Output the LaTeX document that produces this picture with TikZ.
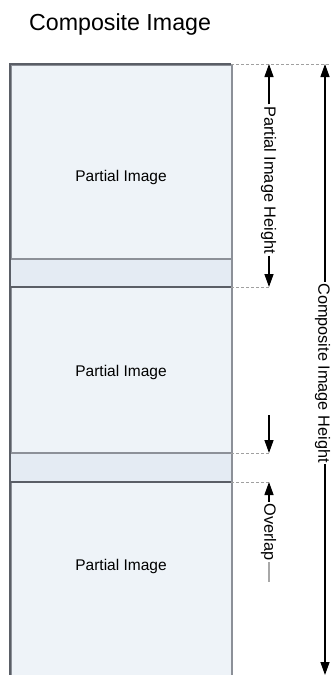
\documentclass[tikz,border=0pt]{standalone}
\usepackage{fontspec}
\setmainfont{Liberation Sans}
\usetikzlibrary{arrows.meta}
\definecolor{pfill}{HTML}{EEF3F8}
\definecolor{bandfill}{HTML}{E4EBF3}
\definecolor{edgedark}{HTML}{5A5E66}
\definecolor{edgelight}{HTML}{8C9098}
\definecolor{dimgray}{HTML}{A8A8A8}
\definecolor{dashgray}{HTML}{A0A0A0}
\begin{document}
\begin{tikzpicture}[x=1pt,y=-1pt,
  partbox/.style={draw=edgelight, fill=pfill, line width=2pt, minimum width=221pt,
    minimum height=223pt, inner sep=0pt, anchor=north west},
  partlabel/.style={font=\fontsize{15.5}{18}\selectfont, anchor=base, inner sep=0pt},
  dimlabel/.style={font=\fontsize{16.3}{19}\selectfont, rotate=-90, fill=white, inner sep=1.5pt},
  dimline/.style={draw=dimgray, line width=1.3pt},
  tip/.style={-{Triangle[length=13pt,width=9pt]}, color=black},
  extline/.style={draw=dashgray, line width=0.9pt, dash pattern=on 3pt off 2pt}]
\useasboundingbox (0,0) rectangle (331,675);

\node[font=\fontsize{23.2}{27}\selectfont, anchor=base west, inner sep=0pt] (title) at (29,30) {Composite Image};

\node[partbox] (p1) at (10,64) {};
\node[partbox] (p2) at (10,259) {};
\node[partbox] (p3) at (10,453) {};

\fill[bandfill] (10,259) rectangle (231,287);
\fill[bandfill] (10,453) rectangle (231,482);
\draw[edgelight, line width=2pt] (10,259) -- (231,259);
\draw[edgedark, line width=2pt] (10,287) -- (231,287);
\draw[edgelight, line width=2pt] (10,453) -- (231,453);
\draw[edgedark, line width=2pt] (10,482) -- (231,482);
\draw[edgedark, line width=2pt] (10,680) -- (10,64) -- (231,64);

\node[partlabel] (l1) at (121,181) {Partial Image};
\node[partlabel] (l2) at (121,376) {Partial Image};
\node[partlabel] (l3) at (121,570) {Partial Image};

% extension lines
\coordinate (e0a) at (231,64);  \coordinate (e0b) at (331,64);
\coordinate (e1a) at (231,287); \coordinate (e1b) at (269,287);
\coordinate (e2a) at (231,453); \coordinate (e2b) at (269,453);
\coordinate (e3a) at (231,482); \coordinate (e3b) at (269,482);
\draw[extline] (e0a) -- (e0b);
\draw[extline] (e1a) -- (e1b);
\draw[extline] (e2a) -- (e2b);
\draw[extline] (e3a) -- (e3b);

% partial image height
\coordinate (pt) at (269,64);
\coordinate (pb) at (269,287);
\node[dimlabel] (plh) at (268.5,180) {Partial Image Height};
\draw[dimline, tip] (pt |- plh.west) -- (pt);
\draw[dimline, tip] (pb |- plh.east) -- (pb);

% composite image height
\coordinate (ct) at (325,64);
\coordinate (cb) at (325,675);
\node[dimlabel] (cih) at (322.5,373) {Composite Image Height};
\draw[dimline, tip] (ct |- cih.west) -- (ct);
\draw[dimline, tip] (cb |- cih.east) -- (cb);

% overlap
\coordinate (ot) at (269,415);
\coordinate (ob) at (269,453);
\coordinate (oc) at (269,482);
\coordinate (oe) at (269,582);
\node[dimlabel] (ovl) at (268.5,532) {Overlap};
\draw[dimline, tip] (ot) -- (ob);
\draw[dimline, tip] (oc |- ovl.west) -- (oc);
\draw[dimline] (oe |- ovl.east) -- (oe);
\end{tikzpicture}
\end{document}
